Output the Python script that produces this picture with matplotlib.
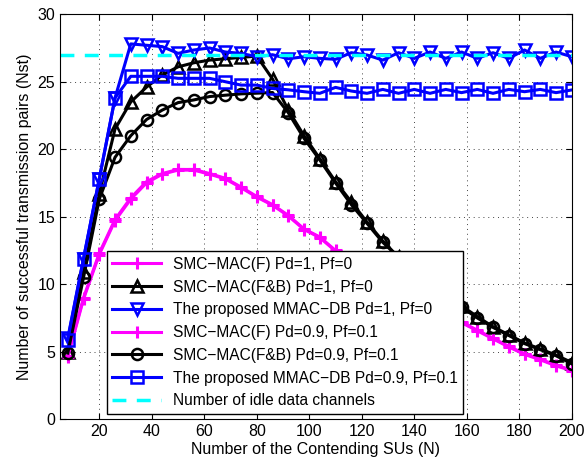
import matplotlib
matplotlib.use("Agg")
import matplotlib.pyplot as plt
import numpy as np

plt.rcParams["font.family"] = ["Liberation Sans", "DejaVu Sans"]

# contending SUs, 8:6:200
n_su = np.arange(8, 201, 6)

smc_f_pd1 = [4.7, 9.0, 12.3, 14.8, 16.4, 17.6, 18.2, 18.5, 18.5, 18.2, 17.85, 17.2,
             16.5, 15.9, 15.1, 14.1, 13.5, 12.5, 11.7, 11.0, 10.3, 9.6, 9.0, 8.4,
             7.8, 7.2, 6.6, 6.0, 5.4, 4.85, 4.45, 4.0, 3.65]
smc_fb_pd1 = [5.0, 10.9, 16.7, 21.5, 23.5, 24.6, 25.5, 26.1, 26.4, 26.6, 26.7, 26.8,
              26.9, 25.2, 22.9, 21.0, 19.3, 17.6, 16.1, 14.6, 13.2, 12.0, 11.1, 10.2,
              9.3, 8.4, 7.6, 6.85, 6.25, 5.65, 5.2, 4.75, 4.2]
mmac_pd1 = [6.0, 11.9, 17.8, 23.8, 27.8, 27.7, 27.6, 27.1, 27.35, 27.5, 27.2, 27.1,
            26.85, 27.0, 26.7, 26.85, 26.73, 26.66, 27.15, 26.98, 26.6, 27.15, 26.73, 27.2,
            26.73, 27.2, 26.73, 27.15, 26.73, 27.35, 26.73, 27.2, 26.85]
smc_f_pd09 = [4.6, 8.9, 12.2, 14.7, 16.3, 17.5, 18.15, 18.45, 18.45, 18.15, 17.8, 17.15,
              16.45, 15.85, 15.05, 14.05, 13.45, 12.45, 11.65, 10.95, 10.25, 9.55, 8.95, 8.35,
              7.75, 7.15, 6.55, 5.95, 5.35, 4.8, 4.4, 3.95, 3.6]
smc_fb_pd09 = [4.9, 10.5, 16.3, 19.4, 21.0, 22.2, 22.9, 23.45, 23.65, 23.9, 24.0, 24.1,
               24.15, 24.2, 22.7, 20.8, 19.2, 17.5, 15.9, 14.5, 13.1, 12.0, 11.0, 10.1,
               9.2, 8.3, 7.5, 6.8, 6.2, 5.6, 5.15, 4.7, 4.1]
mmac_pd09 = [5.9, 11.9, 17.8, 23.8, 25.4, 25.4, 25.4, 25.25, 25.25, 25.25, 25.0, 24.75,
             24.75, 24.5, 24.4, 24.26, 24.14, 24.58, 24.31, 24.14, 24.43, 24.14, 24.43, 24.14,
             24.43, 24.19, 24.43, 24.14, 24.43, 24.26, 24.43, 24.19, 24.39]
idle_x = [5, 200]
idle_channels = [27, 27]

labels = [
    "SMC\u2212MAC(F) Pd=1, Pf=0",
    "SMC\u2212MAC(F&B) Pd=1, Pf=0",
    "The proposed MMAC\u2212DB Pd=1, Pf=0",
    "SMC\u2212MAC(F) Pd=0.9, Pf=0.1",
    "SMC\u2212MAC(F&B) Pd=0.9, Pf=0.1",
    "The proposed MMAC\u2212DB Pd=0.9, Pf=0.1",
    "Number of idle data channels",
]

fig = plt.figure(figsize=(5.85, 4.63), dpi=100)
ax = fig.add_axes([0.1024, 0.0946, 0.875, 0.8747])

lw = 2.2
ax.plot(n_su, smc_f_pd1, color="#ff00ff", lw=lw, marker="+", ms=8, mew=2.2, label=labels[0])
ax.plot(n_su, smc_fb_pd1, color="black", lw=lw, marker="^", ms=9, mew=1.8, mfc="none", label=labels[1])
ax.plot(n_su, mmac_pd1, color="#0000ff", lw=lw, marker="v", ms=9, mew=1.8, mfc="none", label=labels[2])
ax.plot(n_su, smc_f_pd09, color="#ff00ff", lw=lw, marker="+", ms=8, mew=2.2, label=labels[3])
ax.plot(n_su, smc_fb_pd09, color="black", lw=lw, marker="o", ms=8, mew=1.8, mfc="none", label=labels[4])
ax.plot(n_su, mmac_pd09, color="#0000ff", lw=lw, marker="s", ms=8, mew=1.8, mfc="none", label=labels[5])
ax.plot(idle_x, idle_channels, color="#00ffff", lw=2.5, ls=(0, (4, 3)), label=labels[6])

ax.set_xlim(5, 200)
ax.set_ylim(0, 30)
ax.set_xticks(np.arange(20, 201, 20))
ax.set_yticks(np.arange(0, 31, 5))
ax.tick_params(direction="in", top=True, right=True, labelsize=11.5, length=4)
ax.grid(True, color="#444444", ls=(0, (1, 4)), lw=0.7)
ax.set_xlabel("Number of the Contending SUs (N)", fontsize=11.5, labelpad=2)
ax.set_ylabel("Number of successful transmission pairs (Nst)", fontsize=11.5, labelpad=4)

leg = ax.legend(loc="lower left", bbox_to_anchor=(0.092, 0.013), fontsize=11.2,
                handlelength=3.1, borderaxespad=0, fancybox=False, framealpha=1,
                edgecolor="black", labelspacing=0.5, borderpad=0.35)
leg.get_frame().set_linewidth(1)

fig.savefig("out.png", dpi=100)
